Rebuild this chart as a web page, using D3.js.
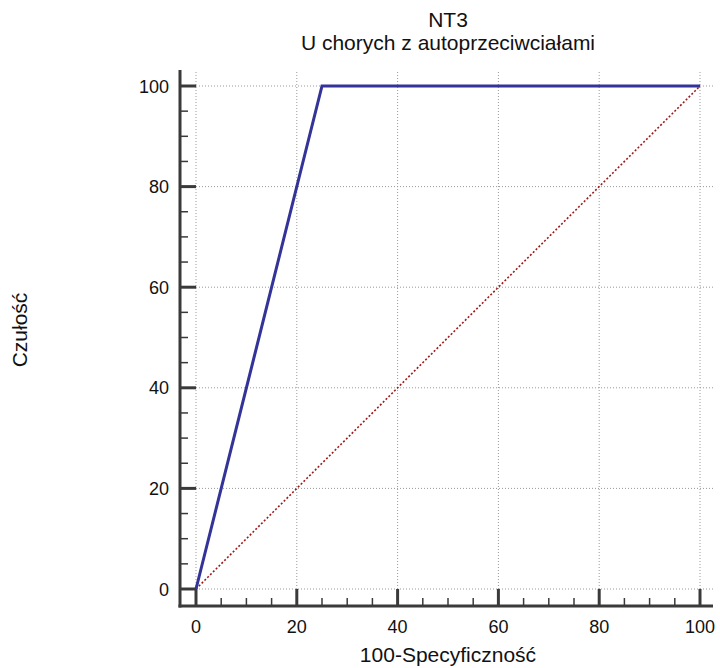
<!DOCTYPE html>
<html>
<head>
<meta charset="utf-8">
<script src="https://cdn.jsdelivr.net/npm/d3@7"></script>
<style>
  body { margin: 0; background: white; }
  text { font-family: "Liberation Sans", Arial, sans-serif; fill: #111; }
</style>
</head>
<body>
<svg id="chart" width="720" height="668"></svg>
<script>
// data
const rocFpr = [0, 25, 100]
const rocTpr = [0, 100, 100]
const refLine = [0, 100]
const majorTicks = [0, 20, 40, 60, 80, 100]
const minorTicks = [5, 10, 15, 25, 30, 35, 45, 50, 55, 65, 70, 75, 85, 90, 95]
const title = ['NT3', 'U chorych z autoprzeciwciałami']
const xTitle = '100-Specyficzność'
const yTitle = 'Czułość'

const svg = d3.select('#chart')

// axis lines sit a little outside the data area
const axisX = 180, axisY = 606
const x = d3.scaleLinear().domain([0, 100]).range([196, 700])
const y = d3.scaleLinear().domain([0, 100]).range([589, 86])
const plotRight = 713, plotTop = 71

// grid
const grid = svg.append('g')
grid.selectAll('.gx')
  .data(majorTicks)
  .join('line')
  .attr('x1', d => x(d)).attr('x2', d => x(d))
  .attr('y1', y(0)).attr('y2', plotTop)
  .attr('stroke', '#999').attr('stroke-width', 1).attr('stroke-dasharray', '1,2')
grid.selectAll('.gy')
  .data(majorTicks)
  .join('line')
  .attr('y1', d => y(d)).attr('y2', d => y(d))
  .attr('x1', x(0)).attr('x2', plotRight)
  .attr('stroke', '#999').attr('stroke-width', 1).attr('stroke-dasharray', '1,2')

// reference diagonal
svg.append('line')
  .attr('x1', x(refLine[0])).attr('y1', y(refLine[0]))
  .attr('x2', x(refLine[1])).attr('y2', y(refLine[1]))
  .attr('stroke', '#9e1a1a').attr('stroke-width', 1.6).attr('stroke-dasharray', '2,2')

// ROC curve
const line = d3.line().x(d => x(d[0])).y(d => y(d[1]))
svg.append('path')
  .datum(rocFpr.map((v, i) => [v, rocTpr[i]]))
  .attr('d', line)
  .attr('fill', 'none')
  .attr('stroke', '#333399')
  .attr('stroke-width', 3)

// axes
const ax = svg.append('g').attr('stroke', '#3a3a3a')
ax.append('line').attr('x1', axisX).attr('x2', axisX).attr('y1', 70).attr('y2', axisY + 1.5).attr('stroke-width', 3)
ax.append('line').attr('x1', axisX - 1.5).attr('x2', plotRight).attr('y1', axisY).attr('y2', axisY).attr('stroke-width', 3)

ax.selectAll('.xmaj').data(majorTicks).join('line')
  .attr('x1', d => x(d)).attr('x2', d => x(d))
  .attr('y1', axisY).attr('y2', y(0)).attr('stroke-width', 3)
ax.selectAll('.xmin').data(minorTicks).join('line')
  .attr('x1', d => x(d)).attr('x2', d => x(d))
  .attr('y1', axisY).attr('y2', axisY - 8).attr('stroke-width', 1.5)
ax.selectAll('.ymaj').data(majorTicks).join('line')
  .attr('y1', d => y(d)).attr('y2', d => y(d))
  .attr('x1', axisX).attr('x2', x(0)).attr('stroke-width', 3)
ax.selectAll('.ymin').data(minorTicks).join('line')
  .attr('y1', d => y(d)).attr('y2', d => y(d))
  .attr('x1', axisX).attr('x2', axisX + 8).attr('stroke-width', 1.5)

// tick labels
svg.selectAll('.xl').data(majorTicks).join('text')
  .attr('x', d => x(d)).attr('y', 633)
  .attr('text-anchor', 'middle').attr('font-size', 18)
  .text(d => d)
svg.selectAll('.yl').data(majorTicks).join('text')
  .attr('x', 169).attr('y', d => y(d) + 6.5)
  .attr('text-anchor', 'end').attr('font-size', 18)
  .text(d => d)

// titles
svg.append('text').attr('x', 448).attr('y', 662)
  .attr('text-anchor', 'middle').attr('font-size', 21).text(xTitle)
svg.append('text')
  .attr('transform', 'translate(27, 330) rotate(-90)')
  .attr('text-anchor', 'middle').attr('font-size', 21).text(yTitle)
svg.selectAll('.tt').data(title).join('text')
  .attr('x', 448).attr('y', (d, i) => 27 + i * 23)
  .attr('text-anchor', 'middle').attr('font-size', 21)
  .text(d => d)
</script>
</body>
</html>
